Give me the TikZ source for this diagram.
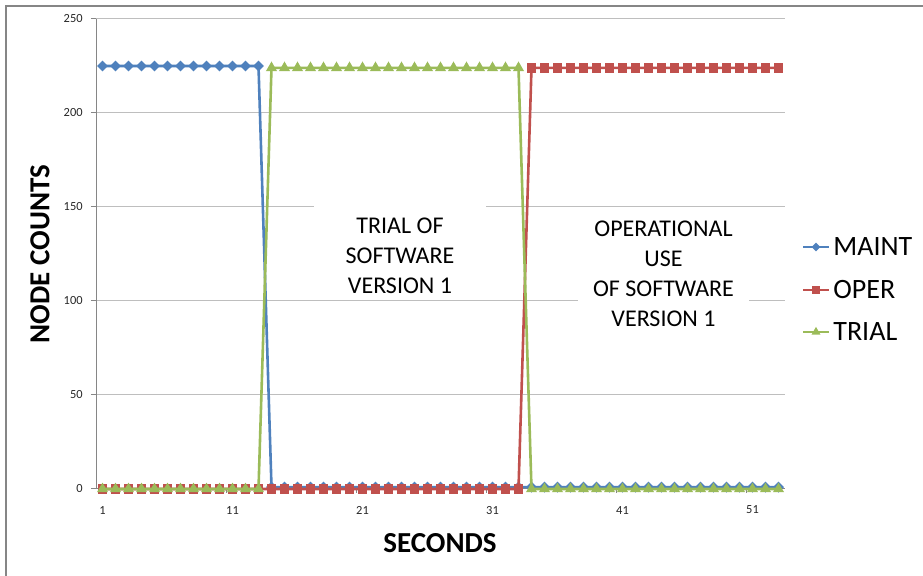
\documentclass[tikz,border=0pt]{standalone}
\usepackage{fontspec}
\setmainfont{Carlito}
\usepackage{tikz}
\usetikzlibrary{calc,shapes.geometric}

\definecolor{maintblue}{HTML}{4F81BD}
\definecolor{operred}{HTML}{C0504D}
\definecolor{trialgreen}{HTML}{9BBB59}
\definecolor{gridgray}{HTML}{BEBEBE}
\definecolor{axisgray}{HTML}{868686}

\tikzset{
  series/.style={line width=1.3pt, line join=round},
  maintmark/.style={diamond, fill=maintblue, inner sep=0pt, minimum size=5.6pt},
  opermark/.style={rectangle, fill=operred, inner sep=0pt, minimum size=4.8pt},
  trialmark/.style={regular polygon, regular polygon sides=3, fill=trialgreen, inner sep=0pt, minimum size=6.4pt},
  ticklabel/.style={font=\fontsize{6.2}{7}\selectfont, text=black!85, inner sep=0pt},
  axistitle/.style={font=\bfseries\fontsize{14.5}{17}\selectfont},
  note/.style={align=center, font=\fontsize{12}{15}\selectfont},
  legendtext/.style={anchor=west, inner sep=2pt, font=\fontsize{14}{16}\selectfont}
}

\begin{document}
\begin{tikzpicture}[x=0.5pt,y=-0.5pt]
  \useasboundingbox (0,0) rectangle (923,576);
  % chart frame, top and left edges
  \draw[axisgray, line width=0.8pt] (6,576) -- (6,6) -- (923,6);

  % plot area: point i sits at x=i-0.5, value v at y=v
  \begin{scope}[shift={(96,489)}, x=6.5pt, y=0.94pt]
    \foreach \v in {50,100,...,250}
      \draw[gridgray, line width=0.5pt] (0,\v) -- (53,\v);
    \draw[axisgray, line width=0.5pt] (0,250) -- (0,0) -- (53,0);

    \foreach \v in {0,50,...,250}
      {
        \draw[axisgray, line width=0.5pt] (-0.4,\v) -- (0,\v);
        \node[ticklabel, anchor=east] (ylab\v) at (-1,\v) {\v};
      }
    \foreach \k in {10,20,...,50}
      \draw[axisgray, line width=0.5pt] (\k,0) -- (\k,-2.2);
    \foreach \i in {1,11,...,51}
      \node[ticklabel] (xlab\i) at (\i-0.5,-11.2) {\i};

    % data points
    \foreach \i in {1,...,53}
      {
        \pgfmathsetmacro\vmaint{\i<14 ? 225 : 1}
        \pgfmathsetmacro\voper{\i<34 ? 0 : 224}
        \pgfmathsetmacro\vtrial{(\i>13 && \i<34) ? 224 : 0}
        \coordinate (maint\i) at (\i-0.5,\vmaint);
        \coordinate (oper\i) at (\i-0.5,\voper);
        \coordinate (trial\i) at (\i-0.5,\vtrial);
      }

    \draw[series, maintblue] (maint1) \foreach \i in {2,...,53} { -- (maint\i) };
    \foreach \i in {1,...,53} \node[maintmark] (mm\i) at (maint\i) {};
    \draw[series, operred] (oper1) \foreach \i in {2,...,53} { -- (oper\i) };
    \foreach \i in {1,...,53} \node[opermark] (om\i) at (oper\i) {};
    \draw[series, trialgreen] (trial1) \foreach \i in {2,...,53} { -- (trial\i) };
    \foreach \i in {1,...,53} \node[trialmark] (tm\i) at (trial\i) {};
  \end{scope}

  % text boxes
  \fill[white] (314,200) rectangle (486,298);
  \node[note] (trialnote) at (400,256) {TRIAL OF\\SOFTWARE\\VERSION 1};
  \fill[white] (578,211) rectangle (749,335);
  \node[note] (opernote) at (663.5,273.5) {OPERATIONAL\\USE\\OF SOFTWARE\\VERSION 1};

  % axis titles
  \node[axistitle, rotate=90] (ytitle) at (40,254) {NODE COUNTS};
  \node[axistitle] (xtitle) at (440,543) {SECONDS};

  % legend
  \foreach \name/\y/\col/\mk in {MAINT/247/maintblue/maintmark,
                                 OPER/290/operred/opermark,
                                 TRIAL/332/trialgreen/trialmark}
    {
      \node[legendtext] (leg\name) at (829,\y) {\name};
      \draw[series, \col] (803,\y) -- (leg\name.west);
      \node[\mk, scale=0.8] (legmk\name) at (816,\y) {};
    }
\end{tikzpicture}
\end{document}
